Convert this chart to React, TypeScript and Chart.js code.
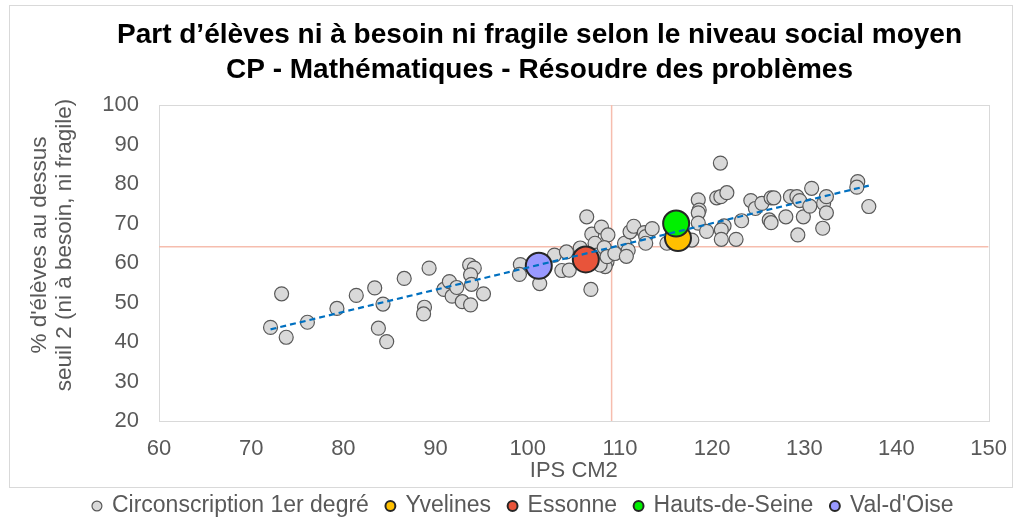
import React, { useEffect, useRef } from "react";
import { Chart, registerables } from "chart.js";

Chart.register(...registerables);

const TITLE = [
  "Part d’élèves ni à besoin ni fragile selon le niveau social moyen",
  "CP - Mathématiques - Résoudre des problèmes",
];
const X_TITLE = "IPS CM2";
const Y_TITLE = ["% d'élèves au dessus", "seuil 2 (ni à besoin, ni fragile)"];
const SERIES_NAMES = ["Circonscription 1er degré", "Yvelines", "Essonne", "Hauts-de-Seine", "Val-d'Oise"];

const circIps = [
  72.1, 73.3, 73.8, 76.1, 79.3, 81.4, 83.4, 84.3, 83.8, 84.7,
  86.6, 89.3, 88.8, 88.7, 90.9, 91.5, 91.8, 92.3, 92.9, 93.8,
  93.7, 94.2, 93.8, 93.9, 95.2, 99.2, 99.1, 101.3, 102.9, 104.2,
  103.7, 104.5, 105.7, 106.4, 106.95, 108.0, 108.7, 106.85, 107.3, 107.5,
  108.3, 108.6, 108.4, 107.85, 108.6, 109.45, 110.5, 110.9, 110.7, 111.1,
  111.5, 112.65, 112.8, 112.8, 113.5, 115.1, 117.8, 118.5, 118.6, 118.5,
  118.5, 119.4, 120.9, 120.5, 120.95, 121.6, 121.3, 121.0, 121.0, 122.6,
  123.2, 124.2, 124.7, 125.4, 126.4, 126.7, 126.2, 126.4, 128.0, 128.5,
  129.2, 129.5, 129.3, 129.9, 130.6, 130.8, 132.0, 132.1, 132.4, 132.4,
  135.8, 135.7, 137.0,
];
const circPct = [
  43.7, 52.2, 41.2, 45.0, 48.5, 51.8, 53.7, 49.6, 43.5, 40.1,
  56.1, 58.7, 48.8, 47.1, 53.3, 55.3, 51.6, 53.8, 50.2, 49.4,
  59.5, 58.7, 57.0, 54.6, 52.2, 59.6, 57.1, 54.8, 62.0, 62.8,
  58.1, 58.2, 63.8, 71.7, 67.3, 69.1, 67.1, 53.3, 65.0, 62.0,
  63.9, 60.3, 59.1, 59.5, 61.6, 62.4, 65.0, 63.2, 61.7, 67.9,
  69.3, 67.7, 66.7, 65.0, 68.7, 65.0, 65.8, 76.0, 73.4, 72.7,
  70.1, 68.0, 85.3, 76.5, 76.8, 77.8, 69.4, 68.4, 66.0, 66.0,
  70.7, 75.8, 73.8, 75.1, 76.5, 76.5, 70.9, 70.2, 71.7, 76.8,
  76.8, 75.8, 67.1, 71.7, 74.4, 78.9, 68.8, 75.1, 76.8, 72.7,
  80.6, 79.2, 74.3,
];

// Yvelines, Essonne, Hauts-de-Seine, Val-d'Oise
const deptIps = [116.3, 106.3, 116.1, 101.2];
const deptPct = [66.3, 60.9, 70.0, 59.3];
const deptColors = ["#FFC000", "#E8543A", "#00F000", "#9999FF"];

const trendIps = [72.1, 137.0];
const trendPct = [43.2, 79.6];
const meanIps = 109.1;
const meanPct = 64.1;

const X_MIN = 60, X_MAX = 150, X_STEP = 10;
const Y_MIN = 20, Y_MAX = 100, Y_STEP = 10;

const FONT = "'Liberation Sans', Arial, sans-serif";
const GREY_TEXT = "#595959";
const LEGEND_FS = 23;

const pts = (xs: number[], ys: number[]) => xs.map((x, i) => ({ x, y: ys[i] }));

const decorPlugin = {
  id: "decor",
  afterLayout(chart: any) {
    const lg = chart.legend;
    if (lg) {
      const pad = lg.options.labels.padding;
      const dy = 506 - (lg.top + pad + LEGEND_FS / 2);
      lg.top += dy;
      lg.bottom = chart.height;
      lg.left += 23;
      lg.right += 23;
    }
    const tb = chart.titleBlock;
    if (tb) {
      tb.left += 39;
      tb.right += 39;
    }
  },
  beforeDraw(chart: any) {
    const { ctx, chartArea: a } = chart;
    ctx.save();
    ctx.fillStyle = "#FFFFFF";
    ctx.fillRect(0, 0, chart.width, chart.height);
    ctx.strokeStyle = "#D9D9D9";
    ctx.lineWidth = 1;
    ctx.strokeRect(9.5, 5.5, 1003, 482);
    ctx.strokeRect(Math.round(a.left) + 0.5, Math.round(a.top) + 0.5, Math.round(a.right - a.left), Math.round(a.bottom - a.top));
    // y axis title (two lines, rotated)
    ctx.fillStyle = GREY_TEXT;
    ctx.font = `22.5px ${FONT}`;
    ctx.textAlign = "center";
    ctx.textBaseline = "middle";
    const cy = 245;
    [40, 65].forEach((cx, i) => {
      ctx.save();
      ctx.translate(cx, cy);
      ctx.rotate(-Math.PI / 2);
      ctx.fillText(Y_TITLE[i], 0, 0);
      ctx.restore();
    });
    ctx.restore();
  },
};

export default function App() {
  const ref = useRef<HTMLCanvasElement | null>(null);
  useEffect(() => {
    if (!ref.current) return;
    const greyStyle = {
      pointRadius: 7,
      pointHoverRadius: 7,
      pointBackgroundColor: "#D9D9D9",
      pointBorderColor: "#595959",
      pointBorderWidth: 1.2,
      backgroundColor: "#D9D9D9",
      borderColor: "#595959",
      borderWidth: 1.2,
    };
    const deptDatasets = deptIps.map((x, i) => ({
      label: SERIES_NAMES[i + 1],
      data: [{ x, y: deptPct[i] }],
      pointRadius: 13,
      pointHoverRadius: 13,
      pointBackgroundColor: deptColors[i],
      pointBorderColor: "#262626",
      pointBorderWidth: 2,
      backgroundColor: deptColors[i],
      borderColor: "#262626",
      borderWidth: 1.5,
      order: 9 - i,
    }));
    const chart = new Chart(ref.current, {
      type: "scatter",
      data: {
        datasets: [
          { label: SERIES_NAMES[0], data: pts(circIps, circPct), ...greyStyle, order: 10 } as any,
          ...deptDatasets,
          {
            label: "trend",
            data: pts(trendIps, trendPct),
            showLine: true,
            pointRadius: 0,
            borderColor: "#0070C0",
            borderWidth: 2.2,
            borderDash: [6, 4],
            order: 0,
          },
          {
            label: "meanY",
            data: [{ x: X_MIN, y: meanPct }, { x: X_MAX, y: meanPct }],
            showLine: true,
            pointRadius: 0,
            borderColor: "#F6BDAE",
            borderWidth: 1.5,
            order: 20,
          },
          {
            label: "meanX",
            data: [{ x: meanIps, y: Y_MIN }, { x: meanIps, y: Y_MAX }],
            showLine: true,
            pointRadius: 0,
            borderColor: "#F6BDAE",
            borderWidth: 1.5,
            order: 21,
          },
        ],
      },
      options: {
        responsive: false,
        animation: false,
        events: [],
        layout: { padding: { left: 0, right: 21, top: 0, bottom: 0 } },
        scales: {
          x: {
            type: "linear",
            min: X_MIN,
            max: X_MAX,
            grid: { display: false, drawTicks: false },
            border: { display: false },
            ticks: { stepSize: X_STEP, padding: 15, color: GREY_TEXT, font: { family: FONT, size: 22 } },
            title: {
              display: true,
              text: X_TITLE,
              color: GREY_TEXT,
              font: { family: FONT, size: 22 },
              padding: { top: 0, bottom: 4 },
            },
            afterFit: (s: any) => { s.height = 488 - 421; },
          },
          y: {
            type: "linear",
            min: Y_MIN,
            max: Y_MAX,
            grid: { display: false, drawTicks: false },
            border: { display: false },
            ticks: { stepSize: Y_STEP, padding: 20, color: GREY_TEXT, font: { family: FONT, size: 22 } },
            afterFit: (s: any) => { s.width = 159; },
          },
        },
        plugins: {
          title: {
            display: true,
            text: TITLE,
            color: "#000000",
            font: { family: FONT, size: 28, weight: "bold", lineHeight: 1.25 },
            padding: { top: 17.5, bottom: 17.5 },
          },
          legend: {
            display: true,
            position: "bottom",
            maxHeight: 31,
            labels: {
              usePointStyle: true,
              pointStyle: "circle",
              boxWidth: 7,
              boxHeight: 7,
              padding: 18,
              color: GREY_TEXT,
              font: { family: FONT, size: LEGEND_FS },
              filter: (item: any) => item.datasetIndex < 5,
              sort: (a: any, b: any) => a.datasetIndex - b.datasetIndex,
            },
          },
          tooltip: { enabled: false },
        },
      },
      plugins: [decorPlugin],
    } as any);
    return () => chart.destroy();
  }, []);
  return (
    <div style={{ position: "absolute", left: 0, top: 0, width: 1022, height: 519, background: "#fff" }}>
      <canvas ref={ref} width={1022} height={519} style={{ display: "block" }} />
    </div>
  );
}
